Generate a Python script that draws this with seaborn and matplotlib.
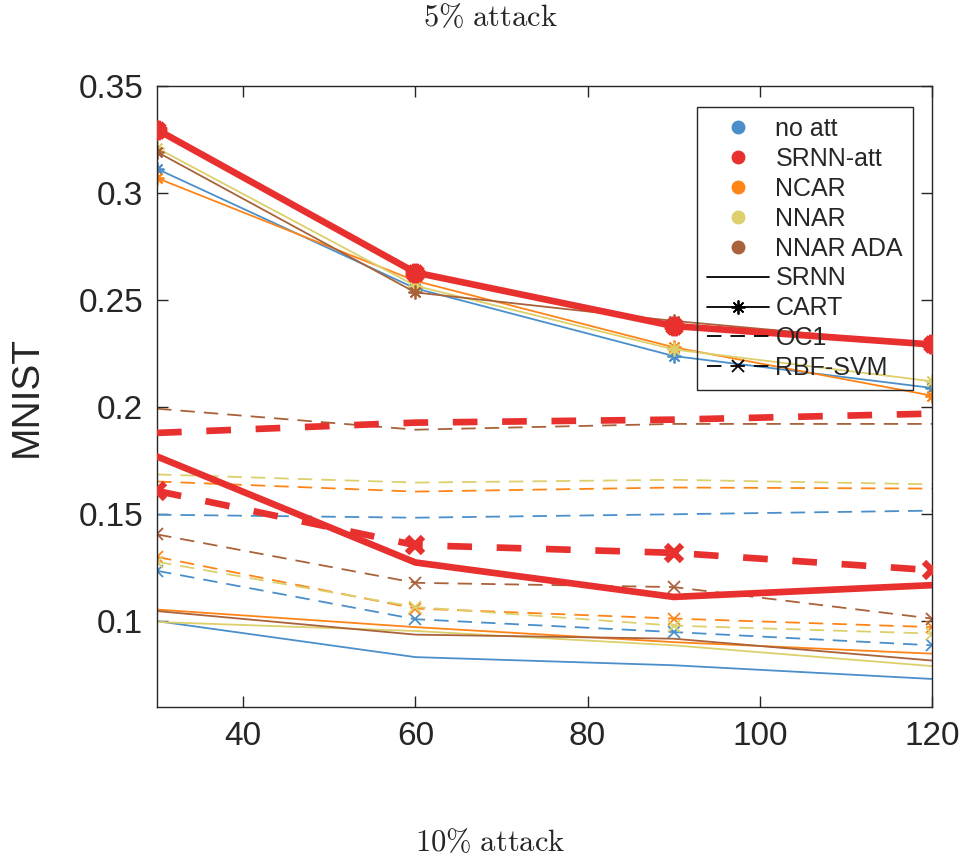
import matplotlib
matplotlib.use("Agg")
from matplotlib import pyplot as plt
from matplotlib.lines import Line2D
import seaborn as sns

# sizes (x axis) and methods
sizes = [30, 60, 90, 120]
methods = ['no att', 'SRNN-att', 'NCAR', 'NNAR', 'NNAR ADA']
colors = ['#4a8fca', '#e8302f', '#ff8418', '#dccf6c', '#a9623a']
classifiers = ['SRNN', 'CART', 'OC1', 'RBF-SVM']

# values per classifier, one row per method (same order as methods)
srnn_vals = [
    [0.1001, 0.0833, 0.0795, 0.0731],
    [0.1770, 0.1275, 0.1114, 0.1169],
    [0.1055, 0.0973, 0.0903, 0.0849],
    [0.0997, 0.0955, 0.0888, 0.0791],
    [0.1048, 0.0938, 0.0919, 0.0817],
]
cart_vals = [
    [0.3113, 0.2555, 0.2239, 0.2090],
    [0.3296, 0.2629, 0.2379, 0.2293],
    [0.3070, 0.2590, 0.2280, 0.2054],
    [0.3210, 0.2567, 0.2270, 0.2121],
    [0.3192, 0.2536, 0.2403, 0.2293],
]
oc1_vals = [
    [0.1498, 0.1484, 0.1500, 0.1517],
    [0.1880, 0.1928, 0.1942, 0.1970],
    [0.1653, 0.1606, 0.1625, 0.1620],
    [0.1686, 0.1648, 0.1661, 0.1640],
    [0.1993, 0.1895, 0.1922, 0.1922],
]
svm_vals = [
    [0.1236, 0.1010, 0.0950, 0.0888],
    [0.1609, 0.1356, 0.1320, 0.1239],
    [0.1301, 0.1060, 0.1013, 0.0973],
    [0.1278, 0.1067, 0.0980, 0.0943],
    [0.1406, 0.1180, 0.1160, 0.1013],
]

sns.set_style('ticks')
plt.rcParams['font.family'] = ['Liberation Sans', 'DejaVu Sans']
plt.rcParams['mathtext.fontset'] = 'cm'

ASTER = (8, 2, 0)
# classifier -> (values, dashed?, marker)
styles = {
    'SRNN': (srnn_vals, False, None),
    'CART': (cart_vals, False, ASTER),
    'OC1': (oc1_vals, True, None),
    'RBF-SVM': (svm_vals, True, 'x'),
}

fig = plt.figure(figsize=(9.61, 8.6), dpi=100)
ax = fig.add_axes([0.1634, 0.1779, 0.8064, 0.7221])

order = [0, 2, 3, 4, 1]  # draw the attack method last
for clf in classifiers:
    vals, dashed, marker = styles[clf]
    for i in order:
        thick = methods[i] == 'SRNN-att'
        lw = 4.8 if thick else 1.3
        if dashed:
            ls = (0, (3.7, 3.7)) if thick else (0, (8, 5))
        else:
            ls = '-'
        ms = 14 if thick else 10
        mew = 4.5 if thick else 1.3
        if marker == 'x':
            ms = 12 if thick else 9
        sns.lineplot(x=sizes, y=vals[i], ax=ax, color=colors[i], linewidth=lw,
                     linestyle=ls, marker=marker, markersize=ms,
                     markeredgewidth=mew, markeredgecolor=colors[i],
                     zorder=3 if thick else 2)

ax.set_xlim(30, 120)
ax.set_ylim(0.06, 0.35)
ax.set_xticks([40, 60, 80, 100, 120])
ax.set_yticks([0.1, 0.15, 0.2, 0.25, 0.3, 0.35])
ax.set_yticklabels(['0.1', '0.15', '0.2', '0.25', '0.3', '0.35'])
ax.tick_params(direction='in', length=8, width=1, top=True, right=True,
               labelsize=24, colors='#262626', pad=10)
for sp in ax.spines.values():
    sp.set_visible(True)
    sp.set_color('#262626')
    sp.set_linewidth(1)

ax.set_ylabel('MNIST', fontsize=28, color='#262626')
ax.yaxis.set_label_coords(-0.145, 0.5)

# legend: colours for methods, line styles for classifiers
handles = [Line2D([0], [0], marker='o', linestyle='none', color=c,
                  markersize=9) for c in colors]
handles += [
    Line2D([0], [0], color='k', lw=1.3, linestyle='-'),
    Line2D([0], [0], color='k', lw=1.3, linestyle='-', marker=ASTER,
           markersize=10, markeredgewidth=1.3),
    Line2D([0], [0], color='k', lw=1.3, linestyle=(0, (8, 5))),
    Line2D([0], [0], color='k', lw=1.3, linestyle=(0, (8, 5)), marker='x',
           markersize=9, markeredgewidth=1.3),
]
leg = ax.legend(handles, methods + classifiers, loc='upper right',
                bbox_to_anchor=(0.9755, 0.966), borderaxespad=0,
                fontsize=18, frameon=True, fancybox=False,
                handlelength=2.5, handletextpad=0.25,
                labelspacing=0.235, borderpad=0.4)
frame = leg.get_frame()
frame.set_facecolor('none')
frame.set_edgecolor('#262626')
frame.set_alpha(None)
frame.set_linewidth(1)

fig.text(0.51, 0.979, r'$\mathrm{5\%\ attack}$', ha='center', va='center',
         fontsize=22)
fig.text(0.51, 0.02, r'$\mathrm{10\%\ attack}$', ha='center', va='center',
         fontsize=22)

fig.savefig('out.png', dpi=100)
plt.close(fig)
